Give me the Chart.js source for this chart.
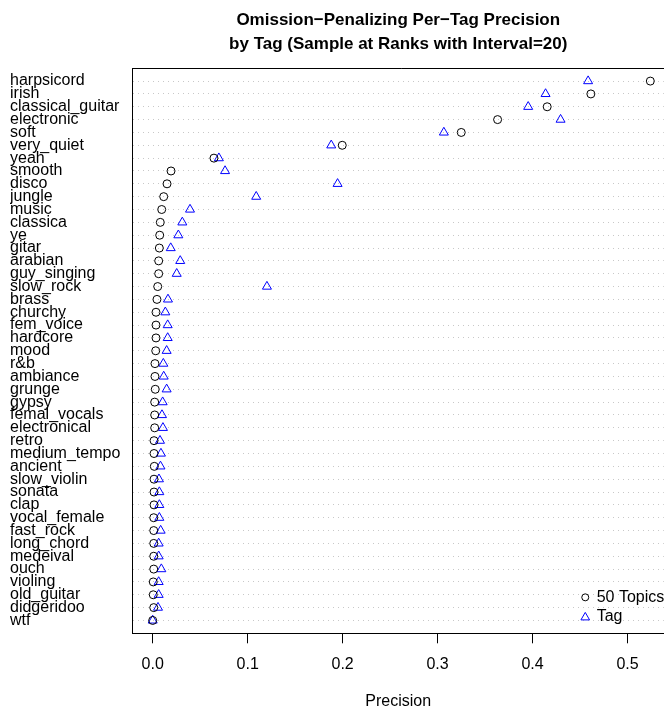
<!DOCTYPE html>
<html><head><meta charset="utf-8">
<script src="https://cdn.jsdelivr.net/npm/chart.js@4/dist/chart.umd.min.js"></script>
<style>html,body{margin:0;padding:0;overflow:hidden;background:#fff}#c{display:block}</style>
</head><body><canvas id="c" width="670" height="708"></canvas>
<script>
const categories = ['harpsicord','irish','classical_guitar','electronic','soft','very_quiet','yeah','smooth','disco','jungle','music','classica','ye','gitar','arabian','guy_singing','slow_rock','brass','churchy','fem_voice','hardcore','mood','r&b','ambiance','grunge','gypsy','femal_vocals','electronical','retro','medium_tempo','ancient','slow_violin','sonata','clap','vocal_female','fast_rock','long_chord','medeival','ouch','violing','old_guitar','didgeridoo','wtf'];
const topics50 = [0.524,0.4614,0.4154,0.3632,0.3249,0.1996,0.0645,0.0193,0.0151,0.0116,0.0095,0.008,0.0074,0.007,0.0063,0.0063,0.0053,0.0045,0.0035,0.0035,0.0035,0.0032,0.0024,0.0024,0.0027,0.0021,0.0021,0.0021,0.0014,0.0014,0.0017,0.0014,0.0014,0.0014,0.0011,0.0011,0.0011,0.0011,0.0011,0.0006,0.0006,0.0011,0.0];
const tagPrec = [0.4585,0.4137,0.3954,0.4295,0.3066,0.188,0.0697,0.0762,0.1947,0.109,0.0393,0.0312,0.027,0.019,0.029,0.0253,0.1203,0.0161,0.0133,0.0158,0.0158,0.0147,0.0112,0.0116,0.0147,0.0105,0.0098,0.0108,0.0077,0.0087,0.0082,0.0066,0.007,0.007,0.007,0.0084,0.0063,0.0063,0.0091,0.0063,0.0063,0.0056,0.0];
const xTickValues = [0,0.1,0.2,0.3,0.4,0.5];
const xTickLabels = ['0.0','0.1','0.2','0.3','0.4','0.5'];
const seriesNames = ['50 Topics','Tag'];
const titleLines = ['Omission\u2212Penalizing Per\u2212Tag Precision','by Tag (Sample at Ranks with Interval=20)'];

const FONT = 'Liberation Sans, Arial, Helvetica, sans-serif';
Chart.defaults.font.family = FONT;
Chart.defaults.color = '#000';

const boxPlugin = {
  id: 'boxPlugin',
  afterDatasetsDraw(chart) {
    const {ctx, chartArea: a} = chart;
    ctx.save();
    ctx.strokeStyle = '#000'; ctx.lineWidth = 1;
    const ty = Math.round(a.top) + 0.5;
    ctx.beginPath(); ctx.moveTo(a.left, ty); ctx.lineTo(a.right + 10, ty); ctx.stroke();
    // legend
    const xs = chart.scales.x, ys = chart.scales.y;
    const sx = xs.getPixelForValue(0.4555);
    const tx = xs.getPixelForValue(0.4675);
    const y1 = ys.getPixelForValue(41.2), y2 = ys.getPixelForValue(42.7);
    ctx.beginPath(); ctx.arc(sx, y1, 3.5, 0, Math.PI * 2); ctx.strokeStyle = '#000'; ctx.stroke();
    const r = 5;
    ctx.beginPath();
    for (let k = 0; k < 3; k++) {
      const ang = k * 2 * Math.PI / 3;
      const px = sx + Math.sin(ang) * r, py = y2 - Math.cos(ang) * r + 0.8;
      if (k === 0) ctx.moveTo(px, py); else ctx.lineTo(px, py);
    }
    ctx.closePath(); ctx.strokeStyle = '#0000ff'; ctx.stroke();
    ctx.fillStyle = '#000'; ctx.font = '16px ' + FONT; ctx.textBaseline = 'middle'; ctx.textAlign = 'left';
    ctx.fillText(seriesNames[0], tx, y1);
    ctx.fillText(seriesNames[1], tx, y2);
    ctx.restore();
  }
};

new Chart(document.getElementById('c'), {
  type: 'scatter',
  data: {
    datasets: [
      { label: seriesNames[0], data: topics50.map((v, i) => ({x: v, y: i + 1})), pointStyle: 'circle', radius: 4, borderColor: '#000', backgroundColor: 'rgba(0,0,0,0)', borderWidth: 1 },
      { label: seriesNames[1], data: tagPrec.map((v, i) => ({x: v, y: i + 1})), pointStyle: 'triangle', radius: 5.2, borderColor: '#0000ff', backgroundColor: 'rgba(0,0,0,0)', borderWidth: 1 }
    ]
  },
  options: {
    responsive: false, maintainAspectRatio: false, animation: false,
    layout: { padding: { left: 10, right: 0, top: 0, bottom: 0 } },
    plugins: {
      legend: { display: false }, tooltip: { enabled: false },
      title: { display: true, fullSize: false, text: titleLines, color: '#000', font: { size: 17, weight: 'bold', lineHeight: 1.41 }, padding: { top: 8, bottom: 12.3 } }
    },
    scales: {
      x: {
        type: 'linear', min: -0.02105, max: 0.5382,
        afterBuildTicks: s => { s.ticks = xTickValues.map(v => ({value: v})); },
        afterFit: s => { s.height = 74.7; },
        ticks: { callback: (v, i) => xTickLabels[i], color: '#000', font: { size: 16 }, padding: 12, autoSkip: false, maxRotation: 0 },
        grid: { drawOnChartArea: false, drawTicks: true, tickLength: 10, color: '#000' },
        border: { display: true, color: '#000', width: 1 },
        title: { display: true, text: 'Precision', color: '#000', font: { size: 16, lineHeight: 1.0 }, padding: { top: 10, bottom: -2 } }
      },
      y: {
        type: 'linear', min: 0, max: 44, reverse: true,
        afterBuildTicks: s => { s.ticks = categories.map((c, i) => ({value: i + 1})); },
        afterFit: s => { s.width = 122.7; },
        ticks: { callback: (v, i) => categories[i], crossAlign: 'far', color: '#000', font: { size: 16 }, autoSkip: false, padding: 0 },
        grid: { drawTicks: false, color: '#c8c8c8', lineWidth: 1 },
        border: { display: true, color: '#000', width: 1, dash: [1, 4] }
      }
    }
  },
  plugins: [boxPlugin]
});
</script></body></html>
